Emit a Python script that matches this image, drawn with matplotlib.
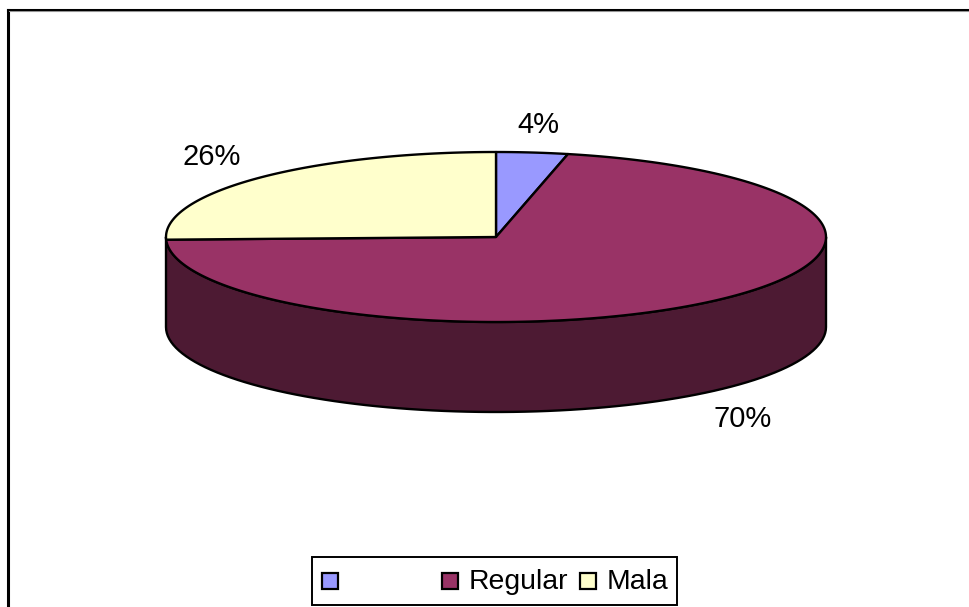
import numpy as np
import matplotlib
matplotlib.use("Agg")
import matplotlib.pyplot as plt
from matplotlib.patches import Polygon, Rectangle

plt.rcParams['font.family'] = ['Liberation Sans', 'DejaVu Sans']

# Drawn shares, read from the slice edges; printed labels kept separately
categories = ['', 'Regular', 'Mala']
shares = [3.5, 71.0, 25.5]
pct_labels = ['4%', '70%', '26%']
colors = ['#9999FF', '#993366', '#FFFFCC']
side_color = '#4D1A33'

W, H = 970, 607
fig = plt.figure(figsize=(W / 100, H / 100), dpi=100, facecolor='white')
ax = fig.add_axes([0, 0, 1, 1])
ax.set_xlim(0, W)
ax.set_ylim(H, 0)
ax.axis('off')

LW = 1.7
FS = 21
cx, cy, rx, ry, depth = 496, 237, 330, 85, 90


def ell(deg, dy=0):
    t = np.radians(deg)
    return np.column_stack([cx + rx * np.sin(t), cy + dy - ry * np.cos(t)])


# Chart frame
ax.plot([8, 8], [H + 5, 9.5], color='black', lw=2.2, solid_joinstyle='miter')
ax.plot([8, W + 5], [9.5, 9.5], color='black', lw=2.2)
ax.plot([9.5, W + 5], [11, 11], color='#999999', lw=0.7)

# Side wall
a = np.linspace(90, 270, 90)
side = np.vstack([ell(a), ell(a[::-1], depth)])
ax.add_patch(Polygon(side, closed=True, facecolor=side_color, edgecolor='black',
                     lw=LW, joinstyle='round'))

# Top wedges
start = 0.0
for share, col in zip(shares, colors):
    end = start + share * 3.6
    ang = np.linspace(start, end, max(int(share * 3), 8))
    pts = np.vstack([[cx, cy], ell(ang)])
    ax.add_patch(Polygon(pts, closed=True, facecolor=col, edgecolor='black',
                         lw=LW, joinstyle='round'))
    start = end

# Percentage labels
label_xy = [(538, 125), (743, 419), (212, 157)]
for txt, (x, y) in zip(pct_labels, label_xy):
    ax.text(x, y, txt, fontsize=FS, ha='center', va='center', color='black')

# Legend
ax.add_patch(Rectangle((312, 557), 365, 48, facecolor='white', edgecolor='black', lw=1.4))
swatch_x = [322, 442, 580]
text_x = [349, 469, 607]
for name, col, sx, tx in zip(categories, colors, swatch_x, text_x):
    ax.add_patch(Rectangle((sx, 573), 16, 16, facecolor=col, edgecolor='black', lw=1.6))
    if name:
        ax.text(tx, 582, name, fontsize=20.4, ha='left', va='center', color='black')

fig.savefig('out.png', dpi=100, facecolor='white')
